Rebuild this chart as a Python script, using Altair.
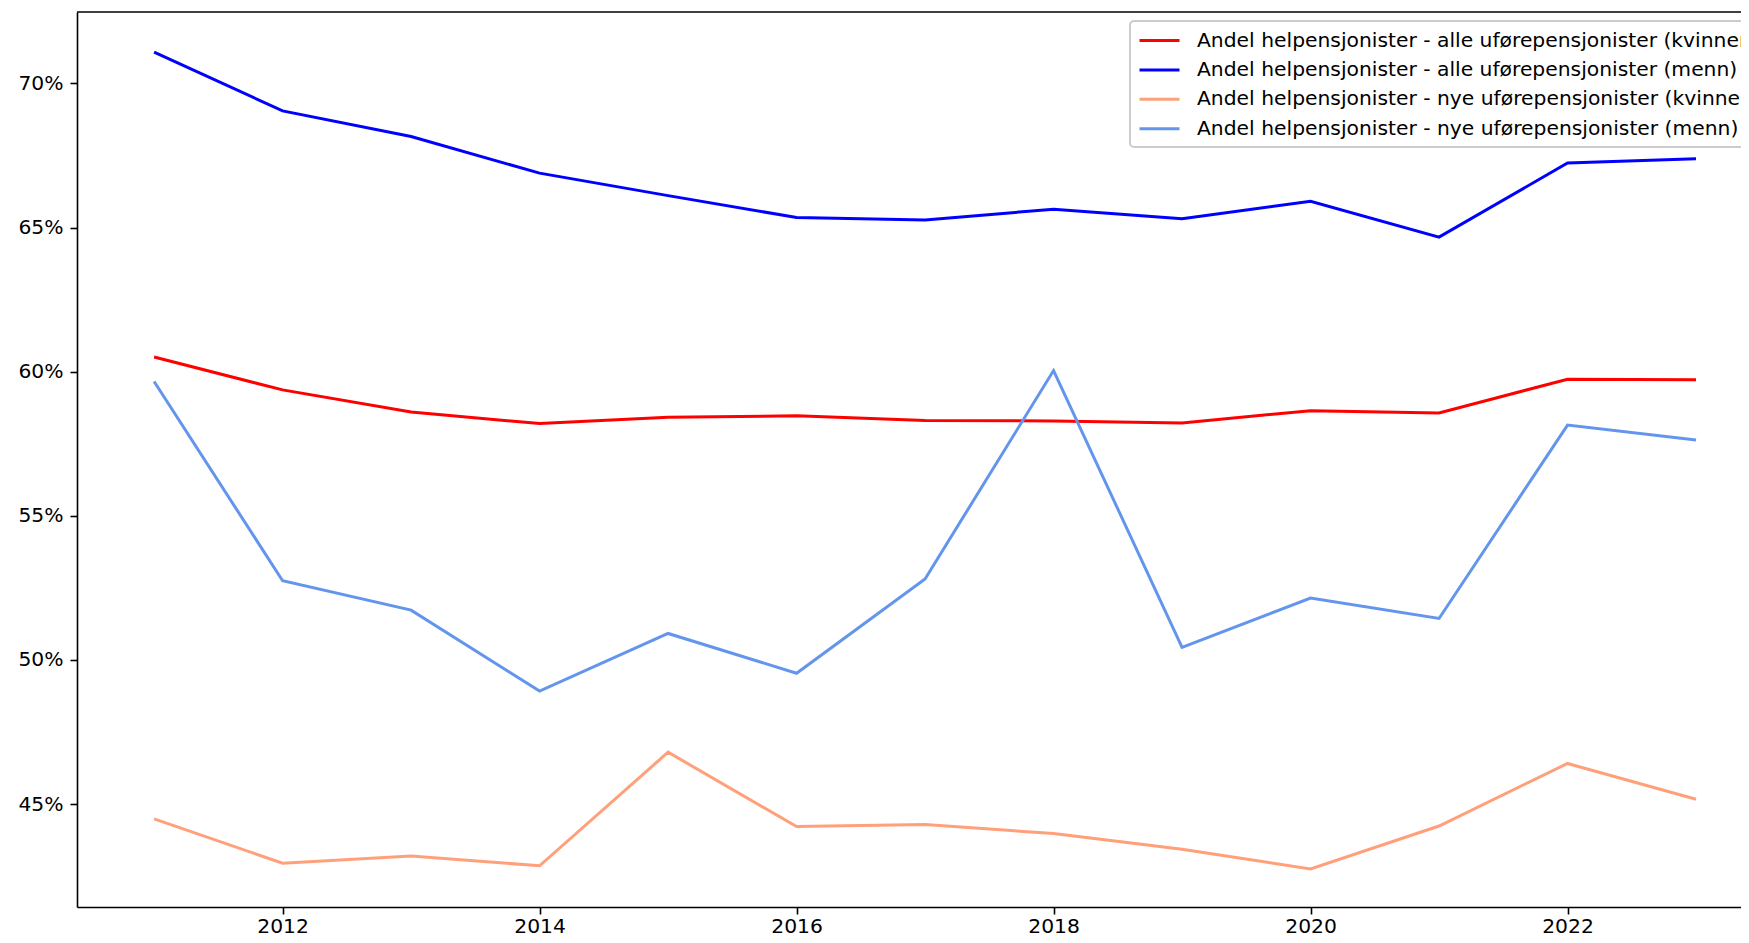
import altair as alt
import pandas as pd

years = list(range(2011, 2024))
series_names = [
    "Andel helpensjonister - alle uførepensjonister (kvinner)",
    "Andel helpensjonister - alle uførepensjonister (menn)",
    "Andel helpensjonister - nye uførepensjonister (kvinner)",
    "Andel helpensjonister - nye uførepensjonister (menn)",
]
alle_kvinner = [60.51, 59.37, 58.60, 58.20, 58.42, 58.47, 58.31, 58.29, 58.22, 58.65, 58.57, 59.74, 59.72]
alle_menn = [71.09, 69.05, 68.16, 66.89, 66.11, 65.35, 65.26, 65.64, 65.31, 65.91, 64.67, 67.24, 67.39]
nye_kvinner = [44.49, 42.95, 43.20, 42.86, 46.80, 44.22, 44.29, 43.98, 43.43, 42.75, 44.24, 46.41, 45.17]
nye_menn = [59.66, 52.75, 51.73, 48.92, 50.92, 49.54, 52.81, 60.04, 50.44, 52.15, 51.44, 58.15, 57.63]
colors = ["#ff0000", "#0000ff", "#ffa07a", "#6495ed"]
x_ticks = [2012, 2014, 2016, 2018, 2020, 2022]
y_ticks = [0.45, 0.50, 0.55, 0.60, 0.65, 0.70]

rows = []
for name, vals in zip(series_names, [alle_kvinner, alle_menn, nye_kvinner, nye_menn]):
    for yr, v in zip(years, vals):
        rows.append({"År": yr, "Andel": v / 100.0, "Serie": name})
df = pd.DataFrame(rows)

W, H = 1664, 895
FONT = "DejaVu Sans"
FS = 20.3

lines = alt.Chart(df).mark_line(strokeWidth=3, clip=True).encode(
    x=alt.X("År:Q",
            scale=alt.Scale(domain=[2010.4, 2023.35], nice=False, zero=False),
            axis=alt.Axis(values=x_ticks, format="d", title=None, grid=False,
                          labelFlush=False, labelOverlap=False, labelPadding=2)),
    y=alt.Y("Andel:Q",
            scale=alt.Scale(domain=[0.4143, 0.7248], nice=False, zero=False),
            axis=alt.Axis(values=y_ticks, format=".0%", title=None, grid=False,
                          labelOverlap=False, labelPadding=7)),
    color=alt.Color("Serie:N",
                    scale=alt.Scale(domain=series_names, range=colors),
                    legend=alt.Legend(title=None, orient="none", legendX=1053, legendY=9,
                                      symbolType="M-2,0H2", symbolSize=400,
                                      symbolStrokeWidth=3, symbolOffset=10,
                                      labelFontSize=FS, labelFont=FONT,
                                      labelColor="black", labelLimit=0,
                                      labelOffset=26, rowPadding=7.4, padding=8,
                                      fillColor="rgba(255,255,255,0.8)",
                                      strokeColor="#cccccc", cornerRadius=4)),
    order=alt.Order("År:Q"),
)

top_border = alt.Chart(pd.DataFrame({"k": [0]})).mark_rule(
    color="black", strokeWidth=1.6
).encode(x=alt.value(0), x2=alt.value(W), y=alt.value(0))

chart = alt.layer(lines, top_border).properties(
    width=W, height=H,
    padding={"left": 69, "top": 4, "right": 0, "bottom": 31},
    autosize=alt.AutoSizeParams(type="none"),
).configure_view(strokeWidth=0).configure_axis(
    labelFont=FONT, labelFontSize=FS, labelColor="black",
    tickColor="black", tickWidth=1.6, tickSize=7,
    domainColor="black", domainWidth=1.6,
).configure_legend(strokeWidth=2)

chart.save("out.html", embed_options={"renderer": "svg", "actions": False})
